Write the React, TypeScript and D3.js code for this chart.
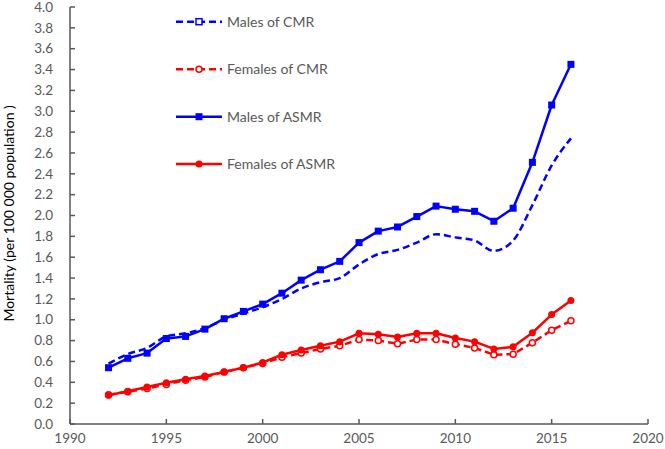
import React from "react";
import * as d3 from "d3";

const years = [1992,1993,1994,1995,1996,1997,1998,1999,2000,2001,2002,2003,2004,2005,2006,2007,2008,2009,2010,2011,2012,2013,2014,2015,2016];
const malesCMR = [0.58,0.67,0.73,0.84,0.87,0.92,1.00,1.06,1.12,1.20,1.30,1.36,1.40,1.53,1.63,1.67,1.74,1.82,1.79,1.76,1.66,1.76,2.10,2.48,2.74];
const femalesCMR = [0.28,0.31,0.34,0.38,0.42,0.45,0.50,0.54,0.58,0.64,0.68,0.72,0.75,0.81,0.80,0.77,0.81,0.81,0.765,0.73,0.665,0.67,0.78,0.90,0.99];
const malesASMR = [0.54,0.63,0.68,0.82,0.84,0.91,1.01,1.08,1.15,1.255,1.38,1.48,1.56,1.74,1.85,1.89,1.99,2.09,2.06,2.04,1.945,2.07,2.51,3.06,3.45];
const femalesASMR = [0.275,0.315,0.355,0.395,0.43,0.46,0.50,0.54,0.59,0.665,0.71,0.75,0.79,0.87,0.86,0.835,0.87,0.87,0.825,0.79,0.72,0.74,0.875,1.05,1.185];
const xTicks = [1990,1995,2000,2005,2010,2015,2020];
const yTicks = d3.range(0, 21).map(i => i * 0.2);
const seriesNames = ["Males of CMR", "Females of CMR", "Males of ASMR", "Females of ASMR"];

const BLUE = "#0000ff";
const RED = "#ff0000";
const GRAY = "#595959";
const FONT = "Lato, 'Open Sans', sans-serif";

export default function App() {
  const W = 665, H = 449;
  const x = d3.scaleLinear().domain([1990, 2020]).range([70, 648]);
  const y = d3.scaleLinear().domain([0, 4]).range([424, 7]);

  const mk = (vals: number[], curve: d3.CurveFactory) =>
    d3.line<number>().x((_, i) => x(years[i])).y(v => y(v)).curve(curve)(vals) || "";

  const series = [
    { name: seriesNames[0], vals: malesCMR, color: BLUE, dash: "7,4", marker: "osq", showMarkers: false, curve: d3.curveMonotoneX },
    { name: seriesNames[1], vals: femalesCMR, color: RED, dash: "7,4", marker: "ocirc", showMarkers: true, curve: d3.curveLinear },
    { name: seriesNames[2], vals: malesASMR, color: BLUE, dash: undefined, marker: "sq", showMarkers: true, curve: d3.curveLinear },
    { name: seriesNames[3], vals: femalesASMR, color: RED, dash: undefined, marker: "circ", showMarkers: true, curve: d3.curveLinear },
  ];

  const marker = (type: string, cx: number, cy: number, color: string, key: string) => {
    if (type === "sq") return <rect key={key} x={cx - 3.5} y={cy - 3.5} width={7} height={7} fill={color} />;
    if (type === "osq") return <rect key={key} x={cx - 3} y={cy - 3} width={6} height={6} fill="#fff" stroke={color} strokeWidth={1.5} />;
    if (type === "circ") return <circle key={key} cx={cx} cy={cy} r={3.5} fill={color} />;
    return <circle key={key} cx={cx} cy={cy} r={3} fill="#fff" stroke={color} strokeWidth={1.5} />;
  };

  const legendY = [21.7, 69.3, 116.7, 164];

  return (
    <svg width={W} height={H} style={{ position: "absolute", left: 0, top: 0, background: "#fff" }}>
      <rect width={W} height={H} fill="#fff" />
      <line x1={x(1990)} x2={x(1990)} y1={y(4)} y2={y(0)} stroke={GRAY} strokeWidth={1.5} />
      <line x1={x(1990)} x2={x(2020)} y1={y(0)} y2={y(0)} stroke={GRAY} strokeWidth={1.5} />
      {yTicks.map((t, i) => (
        <g key={"yt" + i}>
          <line x1={x(1990)} x2={x(1990) + 5} y1={y(t)} y2={y(t)} stroke={GRAY} strokeWidth={1.5} />
          <text x={53} y={y(t)} dy="0.35em" textAnchor="end" fontFamily={FONT} fontSize={13.5} fill={GRAY}>{t.toFixed(1)}</text>
        </g>
      ))}
      {xTicks.map(t => (
        <g key={"xt" + t}>
          <line x1={x(t)} x2={x(t)} y1={y(0)} y2={y(0) - 5} stroke={GRAY} strokeWidth={1.5} />
          <text x={x(t)} y={443} textAnchor="middle" fontFamily={FONT} fontSize={13.5} fill={GRAY}>{t}</text>
        </g>
      ))}
      <text transform={`translate(14,${y(2.02)}) rotate(-90)`} textAnchor="middle" fontFamily={FONT} fontSize={14} fill="#000">
        Mortality (per 100 000 population )
      </text>
      {series.map((s, si) => (
        <g key={"s" + si}>
          <path d={mk(s.vals, s.curve)} fill="none" stroke={s.color} strokeWidth={2.5} strokeDasharray={s.dash} strokeLinejoin="round" />
          {s.showMarkers && s.vals.map((v, i) => marker(s.marker, x(years[i]), y(v), s.color, "m" + si + "-" + i))}
        </g>
      ))}
      {series.map((s, si) => (
        <g key={"l" + si}>
          <line x1={176} x2={222} y1={legendY[si]} y2={legendY[si]} stroke={s.color} strokeWidth={2.5} strokeDasharray={s.dash} />
          {marker(s.marker, 199, legendY[si], s.color, "lm" + si)}
          <text x={227} y={legendY[si]} dy="0.35em" fontFamily={FONT} fontSize={14} fill={GRAY}>{s.name}</text>
        </g>
      ))}
    </svg>
  );
}
